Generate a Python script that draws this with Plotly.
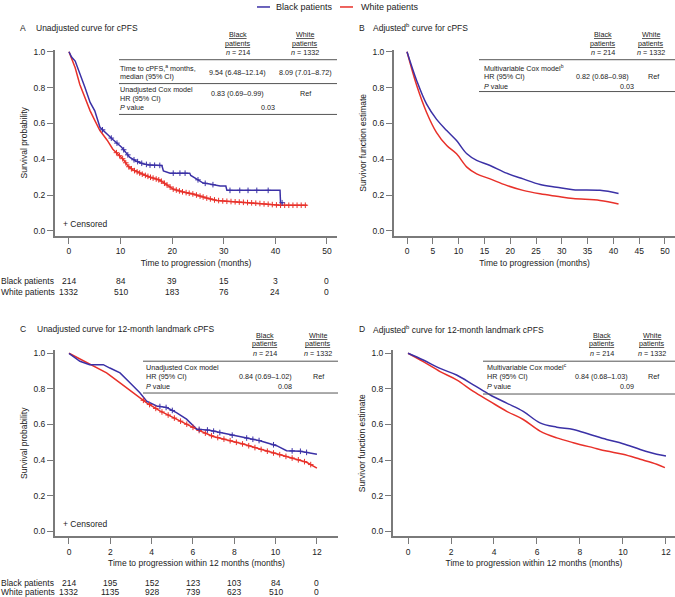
import numpy as np
import plotly.graph_objects as go

W, H = 675, 597
BLUE = '#3b31a6'
RED = '#e8312a'
FONT = 'Liberation Sans, Arial, Helvetica, sans-serif'
TXT = '#222222'
AX = '#7a7a7a'

# ---------------- Panel A: unadjusted cPFS ----------------
a_black_t = [0, 0.5, 1.2, 2.1, 3.1, 4.1, 5.0, 6.0, 7.0, 8.5, 10.2, 11.8, 13.0, 14.3, 15.7, 18.0, 18.3,
             19.6, 23.4, 23.6, 24.7, 26.0, 27.0, 29.3, 30.4, 30.6, 40.9, 41.0, 41.5]
a_black_s = [1.0, 0.97, 0.948, 0.883, 0.80, 0.717, 0.67, 0.578, 0.55, 0.51, 0.467, 0.41, 0.39, 0.375, 0.367,
             0.365, 0.335, 0.322, 0.322, 0.309, 0.29, 0.267, 0.263, 0.25, 0.25, 0.226, 0.226, 0.157, 0.157]
a_white_t = [0, 0.5, 1.2, 2.1, 3.1, 4.1, 5.0, 6.0, 7.4, 8.5, 10.5, 11.5, 12.4, 14.3, 15.7, 17.6, 20.2,
             22.1, 24.0, 26.7, 28.6, 30.6, 35.1, 40.9, 46.1]
a_white_s = [1.0, 0.96, 0.91, 0.817, 0.744, 0.67, 0.617, 0.56, 0.506, 0.456, 0.40, 0.36, 0.34, 0.315, 0.30,
             0.283, 0.233, 0.217, 0.206, 0.183, 0.17, 0.165, 0.157, 0.143, 0.143]
a_black_cens = [6.5, 8.2, 9.3, 10.6, 11.4, 12.6, 13.3, 14.1, 15.0, 15.7, 16.6, 17.6, 20.2, 21.5, 22.5,
                25.0, 26.4, 27.9, 31.2, 33.1, 34.7, 36.4, 38.6, 41.3]
a_white_cens = [9.2, 9.8, 10.4, 11.0, 11.6, 12.1, 12.7, 13.2, 13.7, 14.2, 14.8, 15.3, 15.8, 16.3, 16.9,
                17.4, 17.9, 18.5, 19.0, 19.6, 20.2, 20.8, 21.4, 22.0, 22.7, 23.3, 24.0, 24.7, 25.4, 26.0,
                26.7, 27.4, 28.2, 29.0, 29.8, 30.6, 31.4, 32.2, 33.0, 33.8, 34.6, 35.4, 36.2, 37.0, 37.8,
                38.6, 39.4, 40.2, 41.0, 41.8, 42.6, 43.4, 44.2, 45.0, 45.8]
a_risk_times = [0, 10, 20, 30, 40, 50]
a_risk_black = [214, 84, 39, 15, 3, 0]
a_risk_white = [1332, 510, 183, 76, 24, 0]

# ---------------- Panel B: adjusted cPFS ----------------
b_t = [0, 1.9, 3.8, 5.7, 7.7, 9.6, 11.6, 13.5, 16.1, 19.3, 22.5, 25.8, 29.0, 32.2, 37.4, 41.0]
b_black_s = [1.0, 0.837, 0.707, 0.624, 0.56, 0.504, 0.43, 0.393, 0.365, 0.322, 0.29, 0.259, 0.244,
             0.23, 0.226, 0.209]
b_white_s = [1.0, 0.81, 0.661, 0.55, 0.476, 0.43, 0.356, 0.318, 0.29, 0.254, 0.226, 0.207, 0.193,
             0.18, 0.17, 0.15]

# ---------------- Panel C: unadjusted 12-month landmark ----------------
c_black_t = [0, 0.53, 1.0, 1.66, 1.98, 2.47, 2.95, 3.43, 3.76, 4.24, 4.73, 5.2, 5.69, 6.18, 6.8, 7.63,
             8.43, 9.24, 10.05, 10.53, 11.18, 12.0]
c_black_s = [1.0, 0.955, 0.936, 0.936, 0.917, 0.89, 0.834, 0.778, 0.731, 0.704, 0.695, 0.667, 0.63,
             0.574, 0.568, 0.546, 0.528, 0.509, 0.481, 0.453, 0.45, 0.433]
c_white_t = [0, 0.53, 1.18, 1.82, 2.47, 3.11, 3.76, 4.4, 5.05, 5.69, 6.34, 6.98, 7.63, 8.43, 9.24,
             10.05, 10.85, 11.5, 12.0]
c_white_s = [1.0, 0.967, 0.927, 0.89, 0.834, 0.778, 0.722, 0.676, 0.639, 0.602, 0.564, 0.533, 0.514,
             0.49, 0.462, 0.435, 0.41, 0.388, 0.355]
c_black_cens = [4.4, 4.7, 5.0, 6.3, 6.7, 7.0, 7.3, 7.9, 8.6, 8.9, 9.2, 9.9, 10.8, 11.2, 11.5]
c_white_cens = [3.6, 3.9, 4.2, 4.5, 4.8, 5.1, 5.4, 5.7, 6.0, 6.3, 6.6, 6.9, 7.2, 7.5, 7.8, 8.1, 8.4,
                8.7, 9.0, 9.3, 9.6, 9.9, 10.2, 10.5, 10.8, 11.1, 11.4, 11.7]
c_risk_times = [0, 2, 4, 6, 8, 10, 12]
c_risk_black = [214, 195, 152, 123, 103, 84, 0]
c_risk_white = [1332, 1135, 928, 739, 623, 510, 0]

# ---------------- Panel D: adjusted 12-month landmark ----------------
d_black_t = [0, 0.71, 1.49, 2.26, 3.04, 3.81, 4.59, 5.36, 6.14, 6.92, 7.69, 8.47, 9.24, 10.0, 10.8,
             11.57, 12.0]
d_black_s = [1.0, 0.962, 0.915, 0.878, 0.823, 0.767, 0.72, 0.674, 0.609, 0.585, 0.572, 0.544, 0.516,
             0.492, 0.46, 0.433, 0.423]
d_white_t = [0, 0.71, 1.49, 2.26, 3.04, 3.81, 4.59, 5.36, 6.14, 6.92, 7.69, 8.6, 9.24, 10.0, 10.8,
             11.57, 11.95]
d_white_s = [1.0, 0.953, 0.897, 0.851, 0.786, 0.73, 0.674, 0.628, 0.563, 0.525, 0.498, 0.47, 0.451,
             0.433, 0.405, 0.377, 0.358]

fig = go.Figure()


def curve(t, s, color, xa, ya, shape='linear'):
    fig.add_trace(go.Scatter(x=t, y=s, mode='lines', xaxis=xa, yaxis=ya, showlegend=False,
                             hoverinfo='skip', line=dict(color=color, width=1.5, shape=shape)))


def censor(times, t, s, color, xa, ya):
    yv = np.interp(times, t, s)
    fig.add_trace(go.Scatter(x=times, y=yv, mode='markers', xaxis=xa, yaxis=ya, showlegend=False,
                             hoverinfo='skip',
                             marker=dict(symbol='cross-thin', size=4, line=dict(color=color, width=1))))


curve(a_white_t, a_white_s, RED, 'x', 'y')
curve(a_black_t, a_black_s, BLUE, 'x', 'y')
censor(a_white_cens, a_white_t, a_white_s, RED, 'x', 'y')
censor(a_black_cens, a_black_t, a_black_s, BLUE, 'x', 'y')

curve(b_t, b_white_s, RED, 'x2', 'y2', 'spline')
curve(b_t, b_black_s, BLUE, 'x2', 'y2', 'spline')

curve(c_white_t, c_white_s, RED, 'x3', 'y3')
curve(c_black_t, c_black_s, BLUE, 'x3', 'y3')
censor(c_white_cens, c_white_t, c_white_s, RED, 'x3', 'y3')
censor(c_black_cens, c_black_t, c_black_s, BLUE, 'x3', 'y3')

curve(d_white_t, d_white_s, RED, 'x4', 'y4', 'spline')
curve(d_black_t, d_black_s, BLUE, 'x4', 'y4', 'spline')


def X(p):
    return p / W


def Y(p):
    return 1 - p / H


axis_common = dict(showline=True, linecolor=AX, linewidth=2, ticks='outside', ticklen=6,
                   tickwidth=1.2, tickcolor=AX, showgrid=False, zeroline=False,
                   tickfont=dict(size=8.5, color=TXT, family=FONT), fixedrange=True)
ytick = dict(tickmode='array', tickvals=[0, 0.2, 0.4, 0.6, 0.8, 1.0],
             ticktext=['0.0', '0.2', '0.4', '0.6', '0.8', '1.0'])
tfont = dict(size=8.5, color=TXT, family=FONT)

layout = dict(
    width=W, height=H, autosize=False, margin=dict(l=0, r=0, t=0, b=0),
    paper_bgcolor='white', plot_bgcolor='white', showlegend=False,
    font=dict(family=FONT, color=TXT),
    xaxis=dict(domain=[X(55), X(337)], range=[-2.71, 51.94], anchor='y', tickmode='array',
               tickvals=a_risk_times, title=dict(text='Time to progression (months)', font=tfont, standoff=5),
               **axis_common),
    yaxis=dict(domain=[Y(234), Y(47)], range=[-0.0278, 1.011], anchor='x',
               title=dict(text='Survival probability', font=tfont, standoff=4), **ytick, **axis_common),
    xaxis2=dict(domain=[X(394), 1.0], range=[-2.52, 51.94], anchor='y2', tickmode='array',
                tickvals=[0, 5, 10, 15, 20, 25, 30, 35, 40, 45, 50],
                title=dict(text='Time to progression (months)', font=tfont, standoff=5), **axis_common),
    yaxis2=dict(domain=[Y(234), Y(47)], range=[-0.0278, 1.011], anchor='x2',
                title=dict(text='Survivor function estimate', font=tfont, standoff=4), **ytick, **axis_common),
    xaxis3=dict(domain=[X(55), X(338)], range=[-0.677, 13.02], anchor='y3', tickmode='array',
                tickvals=c_risk_times,
                title=dict(text='Time to progression within 12 months (months)', font=tfont, standoff=5),
                **axis_common),
    yaxis3=dict(domain=[Y(536), Y(349)], range=[-0.028, 1.017], anchor='x3',
                title=dict(text='Survival probability', font=tfont, standoff=4), **ytick, **axis_common),
    xaxis4=dict(domain=[X(393), 1.0], range=[-0.698, 12.42], anchor='y4', tickmode='array',
                tickvals=c_risk_times,
                title=dict(text='Time to progression within 12 months (months)', font=tfont, standoff=5),
                **axis_common),
    yaxis4=dict(domain=[Y(536), Y(349)], range=[-0.028, 1.017], anchor='x4',
                title=dict(text='Survivor function estimate', font=tfont, standoff=4), **ytick, **axis_common),
)
fig.update_layout(**layout)

ann = []
shapes = []


def txt(x, y, s, size=7.2, anchor='left', xref='paper'):
    xx = X(x) if xref == 'paper' else x
    ann.append(dict(x=xx, y=Y(y), xref=xref, yref='paper', text=s, showarrow=False,
                    xanchor=anchor, yanchor='middle', borderpad=0,
                    font=dict(size=size, color=TXT, family=FONT)))


def hline(x0, x1, y, color='#555555', width=1):
    shapes.append(dict(type='line', xref='paper', yref='paper', x0=X(x0), x1=X(x1), y0=Y(y), y1=Y(y),
                       line=dict(color=color, width=width)))


def U(s):
    return '<span style="text-decoration:underline">' + s + '</span>'


# legend
hline(257, 270, 4, BLUE, 1.5)
txt(275, 4, 'Black patients', 9)
hline(340, 353, 4, RED, 1.5)
txt(360, 4, 'White patients', 9)

# panel titles
txt(19, 25, 'A', 8.5)
txt(35, 25, 'Unadjusted curve for cPFS', 8.5)
txt(358, 25, 'B', 8.5)
txt(372, 25, 'Adjusted<sup>b</sup> curve for cPFS', 8.5)
txt(19, 328, 'C', 8.5)
txt(36, 328, 'Unadjusted curve for 12-month landmark cPFS', 8.5)
txt(358, 328, 'D', 8.5)
txt(372, 328, 'Adjusted<sup>b</sup> curve for 12-month landmark cPFS', 8.5)


def headers(xb, xw, y0):
    txt(xb, y0, U('Black'), 7.2, 'center')
    txt(xb, y0 + 8.5, U('patients'), 7.2, 'center')
    txt(xb, y0 + 18, '<i>n</i> = 214', 7.2, 'center')
    txt(xw, y0, U('White'), 7.2, 'center')
    txt(xw, y0 + 8.5, U('patients'), 7.2, 'center')
    txt(xw, y0 + 18, '<i>n</i> = 1332', 7.2, 'center')


# Table A
headers(238, 305, 32)
hline(119, 337, 57)
txt(119, 65.5, 'Time to cPFS,<sup>a</sup> months,')
txt(119, 74, 'median (95% CI)')
txt(238, 69.5, '9.54 (6.48\u201312.14)', 7.2, 'center')
txt(305, 69.5, '8.09 (7.01\u20138.72)', 7.2, 'center')
hline(119, 337, 81)
txt(119, 87, 'Unadjusted Cox model')
txt(119, 95.5, 'HR (95% CI)')
txt(238, 91, '0.83 (0.69\u20130.99)', 7.2, 'center')
txt(305, 91, 'Ref', 7.2, 'center')
txt(119, 105.5, '<i>P</i> value')
txt(268, 105.5, '0.03', 7.2, 'center')
hline(119, 337, 112)

# Table B
headers(603, 651, 32)
hline(479, 675, 57)
txt(483, 65, 'Multivariable Cox model<sup>b</sup>')
txt(483, 74, 'HR (95% CI)')
txt(602, 74, '0.82 (0.68\u20130.98)', 7.2, 'center')
txt(653, 74, 'Ref', 7.2, 'center')
txt(483, 84, '<i>P</i> value')
txt(627, 84, '0.03', 7.2, 'center')
hline(479, 675, 89)

# Table C
headers(265, 318, 334)
hline(143, 338, 360)
txt(145, 366, 'Unadjusted Cox model')
txt(145, 375, 'HR (95% CI)')
txt(265, 375, '0.84 (0.69\u20131.02)', 7.2, 'center')
txt(318, 375, 'Ref', 7.2, 'center')
txt(145, 385, '<i>P</i> value')
txt(285, 385, '0.08', 7.2, 'center')
hline(143, 338, 392)

# Table D
headers(602, 652, 334)
hline(483, 675, 360)
txt(486, 366, 'Multivariable Cox model<sup>c</sup>')
txt(486, 375, 'HR (95% CI)')
txt(601, 375, '0.84 (0.68\u20131.03)', 7.2, 'center')
txt(653, 375, 'Ref', 7.2, 'center')
txt(486, 385, '<i>P</i> value')
txt(627, 385, '0.09', 7.2, 'center')
hline(483, 675, 393)

# censored labels
txt(62, 222, '+ Censored', 8.5)
txt(62, 524, '+ Censored', 8.5)

# risk tables
txt(0, 279, 'Black patients', 8.5)
txt(0, 290, 'White patients', 8.5)
for t, b, w in zip(a_risk_times, a_risk_black, a_risk_white):
    txt(t, 279, str(b), 8.5, 'center', 'x')
    txt(t, 290, str(w), 8.5, 'center', 'x')
txt(0, 583, 'Black patients', 8.5)
txt(0, 592, 'White patients', 8.5)
for t, b, w in zip(c_risk_times, c_risk_black, c_risk_white):
    txt(t, 583, str(b), 8.5, 'center', 'x3')
    txt(t, 592, str(w), 8.5, 'center', 'x3')

fig.update_layout(annotations=ann, shapes=shapes)
fig.write_html('out.html', config={'displayModeBar': False},
               post_script="document.body.style.margin='0';document.body.style.overflow='hidden';"
                           "document.documentElement.style.overflow='hidden';")
